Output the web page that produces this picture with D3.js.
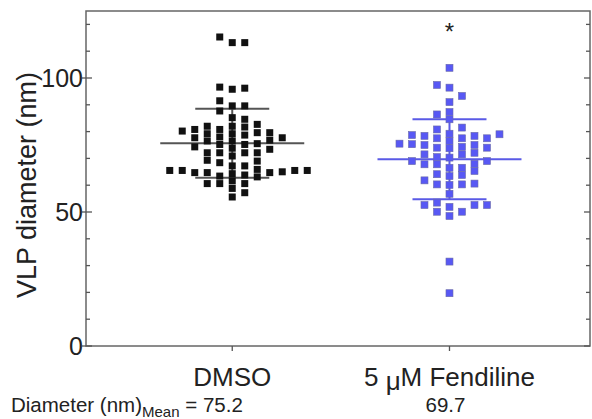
<!DOCTYPE html>
<html>
<head>
<meta charset="utf-8">
<script src="https://cdn.jsdelivr.net/npm/d3@7"></script>
<style>
  body { margin: 0; background: #fff; }
  text { font-family: "Liberation Sans", Arial, sans-serif; fill: #222; }
</style>
</head>
<body>
<div id="vizArea"></div>
<script>
// data
const groups = ['DMSO', '5 \u03bcM Fendiline']
const dmso = [113.2, 115.3, 113.2, 95.8, 96.6, 96.2, 91.5, 89.6, 89.6, 87.7,
    65.5,
    82, 78.7, 75.2, 72.1, 65.5,
    80.8, 78, 75.5, 65.9, 63.4,
    79.6, 72.1, 69, 63.8, 60.6,
    84.6, 81.7, 76.5, 73.8, 70.9, 67.2, 64.7, 60.6, 55.6,
    85.2, 80.8, 77.7, 75.2, 72.1, 67.2, 64.7, 61.6, 58.8,
    79.6, 76.8, 72.1, 69.3, 64.7, 60.6, 57.2,
    80.2, 77.7, 74.3, 65.5, 63.1,
    82, 79.2, 76.5, 73.4, 64.3,
    82.7, 79.2, 68.4, 65,
    65.5]
const fendiline = [103.8, 96.4, 97.4, 93.3, 91, 87.3, 86.4, 84.6, 80.8, 81.5,
    75.3,
    77.5, 75,
    78.7, 74, 70.3, 67.8, 60.3, 52.6,
    77.5, 74.3, 71.5, 68, 65.3, 61.8, 51.9,
    79, 74, 71.5, 69, 66.5, 64.1, 60.3, 56.8, 53.5,
    78.4, 76.5, 72.1, 69, 66.5, 63.4, 60.6, 52.6,
    78.4, 73.8, 70.5, 67.8, 63.8, 60.1, 52.6,
    79.2, 77.5, 75,
    75.5,
    48.5, 50.1, 50.1, 31.5, 19.7]
const meanLabels = ['75.2', '69.7']
const yMajor = [0, 50, 100]
const yMinor = d3.range(0, 125, 10)

const series = [
    {name: groups[0], values: dmso, color: '#111', line: '#555'},
    {name: groups[1], values: fendiline, color: '#5858f4', line: '#5a5ae6'}
]

const margin = {top: 11, right: 2, bottom: 73, left: 86},
    width = 592 - margin.left - margin.right,
    height = 419 - margin.top - margin.bottom

const svg = d3.select('#vizArea').append('svg')
    .attr('width', 592).attr('height', 419)
const g = svg.append('g').attr('transform', `translate(${margin.left},${margin.top})`)

const x = d3.scalePoint().domain(groups).range([0, width]).padding(0.66).align(0.51)
const y = d3.scaleLinear().domain([0, 125]).range([height, 0])

// frame
g.append('rect').attr('width', width).attr('height', height)
    .attr('fill', 'none').attr('stroke', '#666').attr('stroke-width', 1.5)

// y ticks, left and right
const tickSides = [{x0: 0, dir: 1}, {x0: width, dir: -1}]
tickSides.forEach(s => {
    g.selectAll(null).data(yMinor).enter().append('line')
        .attr('x1', s.x0).attr('x2', d => s.x0 + s.dir * (yMajor.includes(d) ? 6 : 4))
        .attr('y1', d => y(d)).attr('y2', d => y(d))
        .attr('stroke', '#555').attr('stroke-width', 1.3)
})
g.selectAll(null).data(yMajor).enter().append('line')
    .attr('x1', -4).attr('x2', 0).attr('y1', d => y(d)).attr('y2', d => y(d))
    .attr('stroke', '#555').attr('stroke-width', 1.3)
g.selectAll('.ylab').data(yMajor).enter().append('text')
    .attr('x', -3).attr('y', d => y(d)).attr('dy', '0.36em')
    .attr('text-anchor', 'end').style('font-size', '25px')
    .text(d => d)

// x ticks and labels
g.selectAll(null).data(groups).enter().append('line')
    .attr('x1', d => x(d)).attr('x2', d => x(d))
    .attr('y1', height).attr('y2', height + 5)
    .attr('stroke', '#555').attr('stroke-width', 1.3)
const xl = g.selectAll('.xlab').data(groups).enter().append('text')
    .attr('x', d => x(d)).attr('y', height + 40)
    .attr('text-anchor', 'middle').style('font-size', '26px')
xl.filter((d, i) => i === 0).text(d => d)
xl.filter((d, i) => i === 1).each(function() {
    const t = d3.select(this)
    t.append('tspan').text('5 ')
    t.append('tspan').attr('dy', 4).text('\u03bc')
    t.append('tspan').attr('dy', -4).text('M Fendiline')
})

// y title
svg.append('text')
    .attr('transform', 'translate(36,185) rotate(-90)')
    .attr('text-anchor', 'middle').style('font-size', '27px')
    .text('VLP diameter (nm)')

// mean row
const mt = svg.append('text').attr('x', 11).attr('y', 412).style('font-size', '20.5px')
mt.append('tspan').text('Diameter (nm)')
mt.append('tspan').attr('dy', 5).style('font-size', '15px').text('Mean')
mt.append('tspan').attr('dy', -5).text(' = ' + meanLabels[0])
g.append('text').attr('x', x(groups[1]) - 4).attr('y', 412 - margin.top)
    .attr('text-anchor', 'middle').style('font-size', '20.5px').text(meanLabels[1])

// significance mark
g.append('text').attr('x', x(groups[1])).attr('y', 40 - margin.top)
    .attr('text-anchor', 'middle').style('font-size', '24px').text('*')

// simple column swarm
const step = 12.5, size = 7
function swarm(values) {
    const placed = []
    const sorted = values.slice().sort((a, b) => a - b)
    let flip = 1
    sorted.forEach(v => {
        const py = y(v)
        for (let k = 0; k < 20; k++) {
            const cands = k === 0 ? [0] : [k * flip, -k * flip]
            const ok = cands.find(c => !placed.some(p => p.col === c && Math.abs(p.py - py) < size))
            if (ok !== undefined) {
                placed.push({v, py, col: ok})
                if (ok !== 0) flip = -flip
                return
            }
        }
    })
    return placed
}

series.forEach(s => {
    const cx = x(s.name)
    const m = d3.mean(s.values), sd = d3.deviation(s.values)

    g.append('line').attr('x1', cx - 72).attr('x2', cx + 72)
        .attr('y1', y(m)).attr('y2', y(m))
        .attr('stroke', s.line).attr('stroke-width', 2)
    g.selectAll(null).data([m - sd, m + sd]).enter().append('line')
        .attr('x1', cx - 37).attr('x2', cx + 37)
        .attr('y1', d => y(d)).attr('y2', d => y(d))
        .attr('stroke', s.line).attr('stroke-width', 2)
    g.append('line').attr('x1', cx).attr('x2', cx)
        .attr('y1', y(m - sd)).attr('y2', y(m + sd))
        .attr('stroke', s.line).attr('stroke-width', 2)

    g.selectAll(null).data(swarm(s.values)).enter().append('rect')
        .attr('x', d => cx + d.col * step - size / 2)
        .attr('y', d => d.py - size / 2)
        .attr('width', size).attr('height', size)
        .attr('fill', s.color)
        .attr('stroke', s.color === '#111' ? 'none' : '#6a6aa8')
        .attr('stroke-width', 0.6)
})
</script>
</body>
</html>
